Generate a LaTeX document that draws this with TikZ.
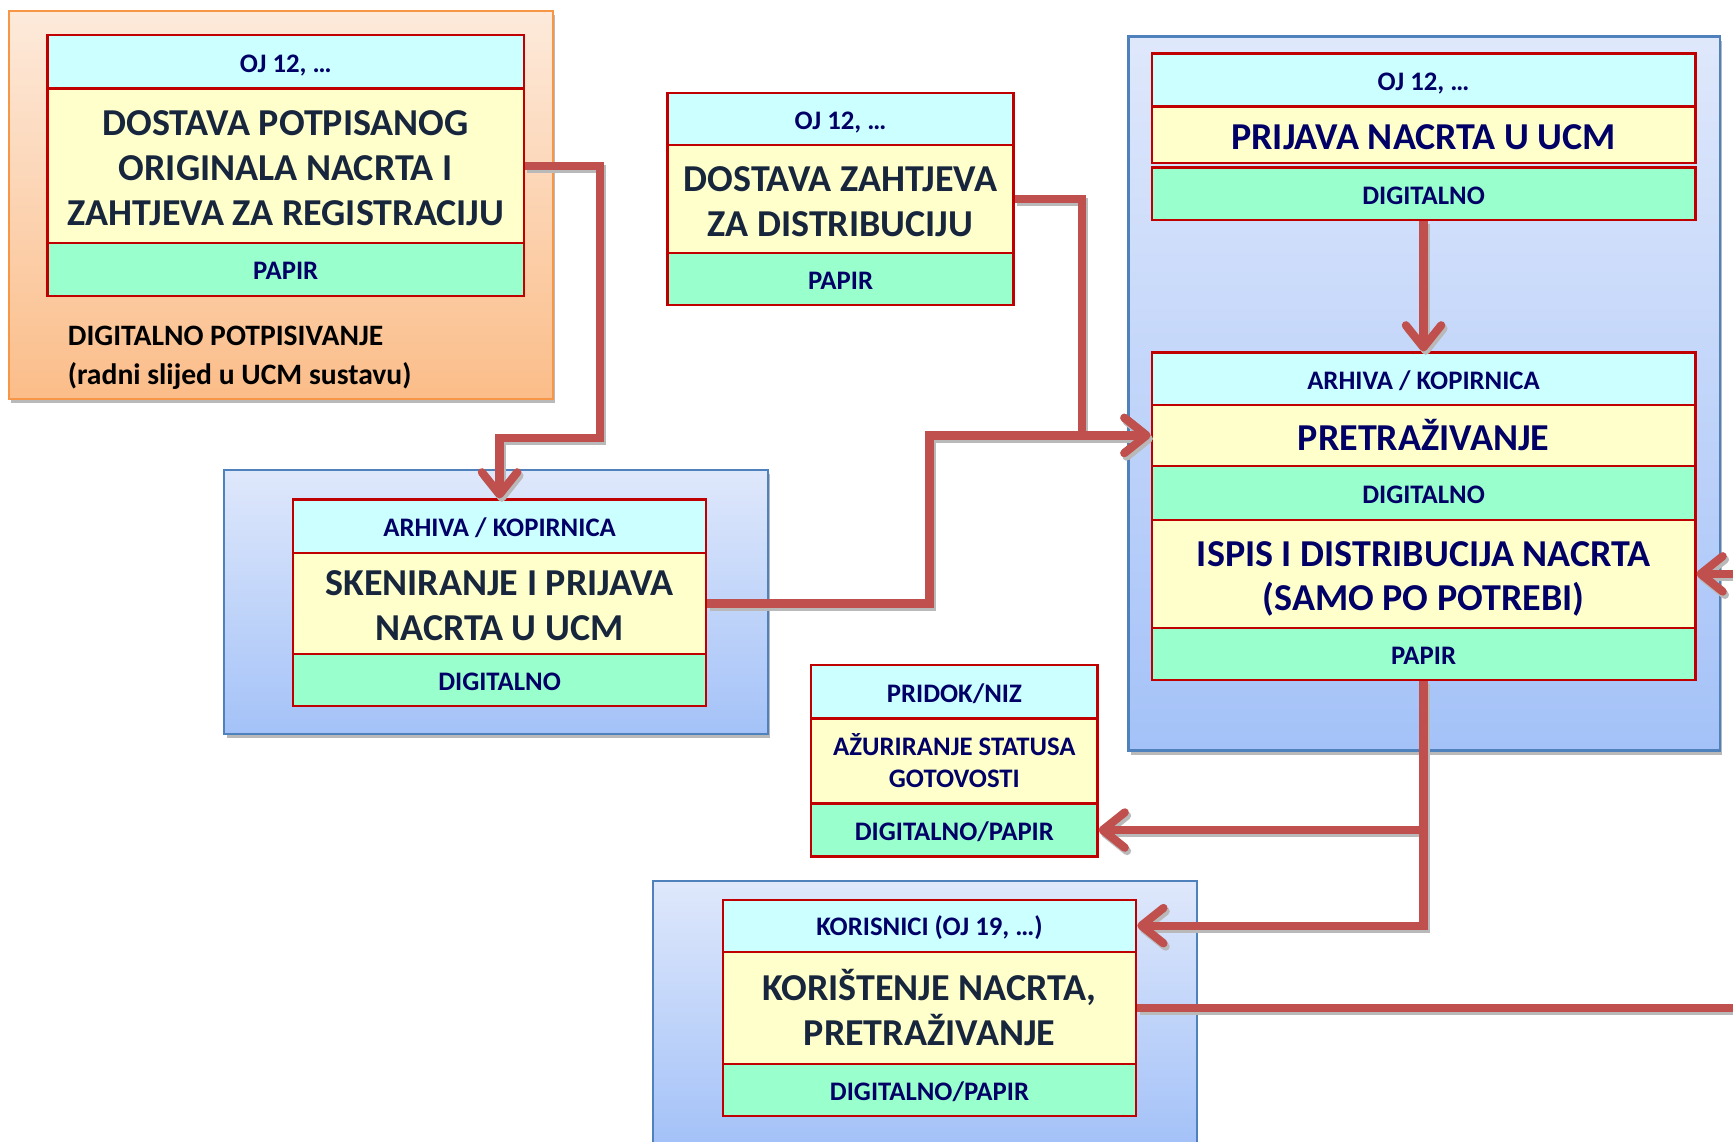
\documentclass[tikz,border=0pt]{standalone}
\usepackage{fontspec}
\setmainfont{Carlito}
\usetikzlibrary{arrows.meta}
\definecolor{rowcyan}{HTML}{CCFFFF}
\definecolor{rowyellow}{HTML}{FFFFCC}
\definecolor{rowgreen}{HTML}{99FFCC}
\definecolor{boxred}{HTML}{C00000}
\definecolor{navy}{HTML}{000066}
\definecolor{slate}{HTML}{17263C}
\definecolor{connred}{HTML}{C0504D}
\definecolor{grpblue}{HTML}{4F81BD}
\definecolor{bluetop}{HTML}{DFE8FB}
\definecolor{bluebot}{HTML}{A4C2F8}
\definecolor{orgtop}{HTML}{FDEADB}
\definecolor{orgbot}{HTML}{FBBD89}
\definecolor{orgborder}{HTML}{F79646}
\newcommand\ls{\rule[-0.19em]{0pt}{1.15em}}
\begin{document}
\begin{tikzpicture}[x=0.5pt,y=-0.5pt,
  rowbase/.style={draw=boxred, line width=1pt, inner sep=0pt, align=center, text=navy},
  cyrow/.style={rowbase, fill=rowcyan},
  yerow/.style={rowbase, fill=rowyellow},
  grrow/.style={rowbase, fill=rowgreen},
  small/.style={font=\fontsize{12.1}{14.6}\selectfont\bfseries},
  big/.style={font=\fontsize{17.2}{20.3}\selectfont\bfseries},
  bluegrp/.style={draw=grpblue, line width=1pt, top color=bluetop, bottom color=bluebot},
  orangegrp/.style={draw=orgborder, line width=1pt, top color=orgtop, bottom color=orgbot},
  grpshadow/.style={fill=gray!55},
  conn/.style={draw=connred, line width=3.7pt, -{Straight Barb[length=10pt,width=16pt,round]},
    preaction={draw=gray!55, line width=3.7pt, transform canvas={shift={(1pt,-1.5pt)}}}},
  connplain/.style={draw=connred, line width=3.7pt,
    preaction={draw=gray!55, line width=3.7pt, transform canvas={shift={(1pt,-1.5pt)}}}}
]
\useasboundingbox (0,0) rectangle (1568,1033);
\fill[white] (0,0) rectangle (1568,1033);

% ---------- groups ----------
\fill[grpshadow] (10,14) rectangle (502,365);
\path[orangegrp] (8,10) rectangle (500,361);
\fill[grpshadow] (205,429) rectangle (697,668);
\path[bluegrp] (203,425) rectangle (695,664);
\fill[grpshadow] (1023,37) rectangle (1558,683);
\path[bluegrp] (1021,33) rectangle (1556,679);
\shade[top color=bluetop, bottom color=bluebot] (591,797) rectangle (1083,1033);
\draw[grpblue, line width=1pt] (591,1034) -- (591,797) -- (1083,797) -- (1083,1034);

% ---------- box 1 ----------
\node[cyrow, small, minimum width=215.5pt, minimum height=24pt] (b1a) at (258.5,56) {\ls OJ 12, …};
\node[yerow, big, text=slate, minimum width=215.5pt, minimum height=70pt] (b1b) at (258.5,150) {\ls DOSTAVA POTPISANOG\\\ls ORIGINALA NACRTA I\\\ls ZAHTJEVA ZA REGISTRACIJU};
\node[grrow, small, minimum width=215.5pt, minimum height=24pt] (b1c) at (258.5,244) {\ls PAPIR};
\node[anchor=west, align=left, inner sep=0pt, font=\fontsize{13.4}{17.5}\selectfont\bfseries, text=black] (sig) at (61,320) {\ls DIGITALNO POTPISIVANJE\\\ls (radni slijed u UCM sustavu)};

% ---------- box 2 ----------
\node[cyrow, small, minimum width=156.5pt, minimum height=23.5pt] (b2a) at (760.5,107.5) {\ls OJ 12, …};
\node[yerow, big, text=slate, minimum width=156.5pt, minimum height=49pt] (b2b) at (760.5,180) {\ls DOSTAVA ZAHTJEVA\\\ls ZA DISTRIBUCIJU};
\node[grrow, small, minimum width=156.5pt, minimum height=23.5pt] (b2c) at (760.5,252.5) {\ls PAPIR};

% ---------- box 3 ----------
\node[cyrow, small, minimum width=246pt, minimum height=24pt] (b3a) at (1288,72.5) {\ls OJ 12, …};
\node[yerow, big, minimum width=246pt, minimum height=25.65pt] (b3b) at (1288,122) {\ls PRIJAVA NACRTA U UCM};
\node[grrow, small, minimum width=246pt, minimum height=23.75pt] (b3c) at (1288,175.3) {\ls DIGITALNO};

% ---------- box 4 ----------
\node[cyrow, small, minimum width=246pt, minimum height=23.75pt] (b4a) at (1288,342.75) {\ls ARHIVA / KOPIRNICA};
\node[yerow, big, minimum width=246pt, minimum height=27.5pt] (b4b) at (1288,394) {\ls PRETRAŽIVANJE};
\node[grrow, small, minimum width=246pt, minimum height=24.5pt] (b4c) at (1288,446) {\ls DIGITALNO};
\node[yerow, big, minimum width=246pt, minimum height=48.75pt] (b4d) at (1288,519.25) {\ls ISPIS I DISTRIBUCIJA NACRTA\\\ls (SAMO PO POTREBI)};
\node[grrow, small, minimum width=246pt, minimum height=23.5pt] (b4e) at (1288,591.5) {\ls PAPIR};

% ---------- box 5 ----------
\node[cyrow, small, minimum width=187pt, minimum height=24pt] (b5a) at (452,476) {\ls ARHIVA / KOPIRNICA};
\node[yerow, big, text=slate, minimum width=187pt, minimum height=46pt] (b5b) at (452,546) {\ls SKENIRANJE I PRIJAVA\\\ls NACRTA U UCM};
\node[grrow, small, minimum width=187pt, minimum height=23.5pt] (b5c) at (452,615.5) {\ls DIGITALNO};

% ---------- box 6 ----------
\node[cyrow, small, minimum width=129.5pt, minimum height=24pt] (b6a) at (863.5,626) {\ls PRIDOK/NIZ};
\node[yerow, small, minimum width=129.5pt, minimum height=38.5pt] (b6b) at (863.5,688.5) {\ls AŽURIRANJE STATUSA\\\ls GOTOVOSTI};
\node[grrow, small, minimum width=129.5pt, minimum height=24pt] (b6c) at (863.5,751) {\ls DIGITALNO/PAPIR};

% ---------- box 7 ----------
\node[cyrow, small, minimum width=187pt, minimum height=23.5pt] (b7a) at (841,837.5) {\ls KORISNICI (OJ 19, …)};
\node[yerow, big, text=slate, minimum width=187pt, minimum height=51pt] (b7b) at (841,912) {\ls KORIŠTENJE NACRTA,\\\ls PRETRAŽIVANJE};
\node[grrow, small, minimum width=187pt, minimum height=23.5pt] (b7c) at (841,986.5) {\ls DIGITALNO/PAPIR};

% ---------- connectors ----------
\coordinate (j1) at (543,396);
\coordinate (j2) at (979,0);
\coordinate (j3) at (841,0);
\coordinate (r1) at (1569,519.25);
\coordinate (r2) at (1569,912);
\draw[conn] (b1b.east) -| (j1) -| (b5a.north);
\draw[conn] (b2b.east) -| (b4b.west -| j2) -- (b4b.west);
\draw[conn] (b5b.east) -| (b4b.west -| j3) -- (b4b.west);
\draw[conn] (b3c.south) -- (b4a.north);
\draw[conn] (b4e.south) |- (b6c.east);
\draw[conn] (b4e.south) |- (b7a.east);
\draw[conn] (r1) -- (b4d.east);
\draw[connplain] (b7b.east) -- (r2);
\end{tikzpicture}
\end{document}
